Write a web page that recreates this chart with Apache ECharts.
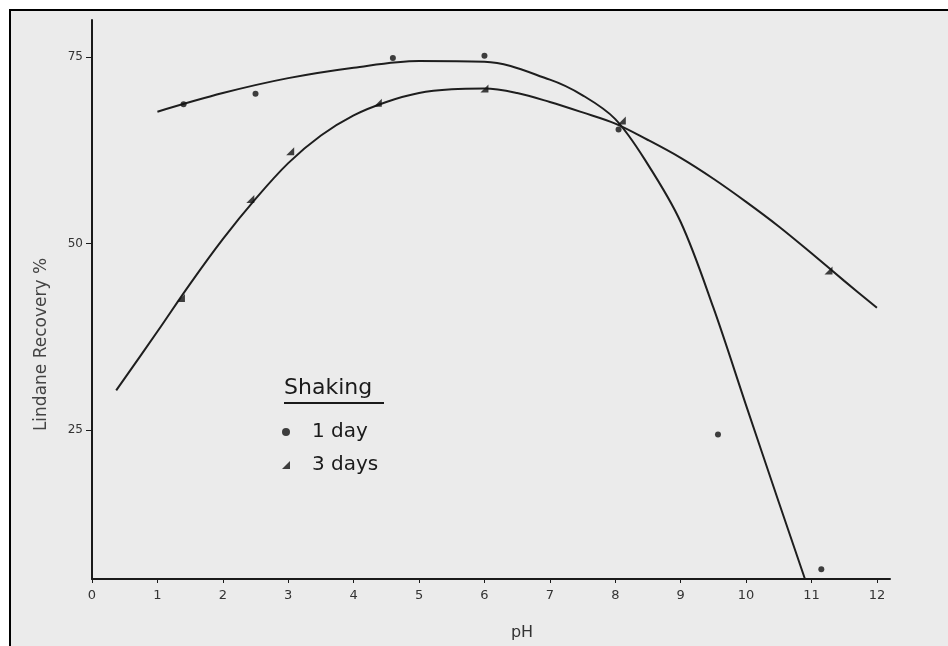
<!DOCTYPE html>
<html>
<head>
<meta charset="utf-8">
<script src="https://cdn.jsdelivr.net/npm/echarts@6/dist/echarts.min.js"></script>
<style>html,body{margin:0;padding:0;background:#fff;}#c{width:948px;height:646px;}</style>
</head>
<body>
<div id="c"></div>
<script>
// Measured points (pH, Lindane recovery %)
const pH1 = [1.4, 2.5, 4.6, 6.0, 8.05, 9.57, 11.15];
const rec1 = [68.7, 70.1, 74.9, 75.2, 65.3, 24.4, 6.3];
const pH3 = [1.36, 2.42, 3.03, 4.37, 6.0, 8.1, 11.26];
const rec3 = [42.7, 56.0, 62.4, 68.9, 70.8, 66.5, 46.4];
// Hand-drawn curves
const curve1pH = [1.0, 2.0, 3.0, 4.0, 5.0, 6.0, 7.0, 7.5, 8.0, 8.5, 9.0, 9.5, 10.0, 10.5, 10.9];
const curve1Rec = [67.7, 70.2, 72.2, 73.6, 74.5, 74.4, 72.0, 69.9, 66.7, 60.6, 52.9, 41.4, 28.3, 15.3, 5.0];
const curve3pH = [0.37, 1.0, 1.5, 2.0, 2.5, 3.0, 3.5, 4.0, 4.5, 5.0, 5.5, 6.0, 6.5, 7.0, 7.5, 8.0, 8.5, 9.0, 9.5, 10.0, 10.5, 11.0, 11.5, 12.0];
const curve3Rec = [30.3, 38.2, 44.6, 50.6, 56.0, 60.8, 64.5, 67.2, 69.0, 70.2, 70.7, 70.8, 70.2, 69.0, 67.6, 66.1, 63.9, 61.5, 58.7, 55.6, 52.3, 48.7, 45.0, 41.4];
const xTicks = [0, 1, 2, 3, 4, 5, 6, 7, 8, 9, 10, 11, 12];
const yTicks = [25, 50, 75];

const zip = (a, b) => a.map((v, i) => [v, b[i]]);
const FONT = 'DejaVu Sans';
const INK = '#1a1a1a';
const triPath = 'path://M0,10 L10,10 L10,0 Z';

const chart = echarts.init(document.getElementById('c'), null, {renderer: 'canvas'});
chart.setOption({
  backgroundColor: '#ffffff',
  animation: false,
  graphic: [
    {type: 'rect', z: -10, silent: true, shape: {x: 10, y: 10, width: 950, height: 660},
     style: {fill: '#ebebeb', stroke: '#000', lineWidth: 2}},
    {type: 'text', z: 10, left: 284, top: 377,
     style: {text: 'Shaking', font: '22px "DejaVu Sans"', fill: INK}},
    {type: 'line', z: 10, shape: {x1: 284, y1: 403, x2: 384, y2: 403},
     style: {stroke: INK, lineWidth: 2}}
  ],
  grid: {left: 92, right: 58, top: 20, bottom: 63},
  legend: {
    orient: 'vertical', left: 277, top: 417, itemGap: 13,
    itemWidth: 8, itemHeight: 8,
    data: [{name: '1 day', icon: 'circle'}, {name: '3 days', icon: triPath}],
    textStyle: {fontFamily: FONT, fontSize: 20, lineHeight: 20, color: INK, padding: [0, 0, 0, 17]}
  },
  xAxis: {
    type: 'value', min: 0, max: 12.2,
    name: 'pH', nameLocation: 'middle', nameGap: 46,
    nameTextStyle: {fontFamily: FONT, fontSize: 16, color: '#333', padding: [0, 0, 0, 62]},
    axisLine: {lineStyle: {color: INK, width: 2}},
    axisTick: {show: true, length: 4, lineStyle: {color: INK}, customValues: xTicks},
    axisLabel: {fontFamily: FONT, fontSize: 13, color: '#333', margin: 10, customValues: xTicks},
    splitLine: {show: false}
  },
  yAxis: {
    type: 'value', min: 5, max: 80,
    name: 'Lindane Recovery %', nameLocation: 'middle', nameGap: 42, nameRotate: 90,
    nameTextStyle: {fontFamily: FONT, fontSize: 17, color: '#444', padding: [0, 90, 0, 0]},
    axisLine: {lineStyle: {color: INK, width: 2}},
    axisTick: {show: true, length: 6, lineStyle: {color: INK}, customValues: yTicks},
    axisLabel: {fontFamily: FONT, fontSize: 12, color: '#333', margin: 9, customValues: yTicks},
    splitLine: {show: false}
  },
  series: [
    {name: '1 day curve', type: 'line', smooth: 0.35, showSymbol: false, z: 3,
     data: zip(curve1pH, curve1Rec), lineStyle: {color: '#1e1e1e', width: 2}},
    {name: '3 days curve', type: 'line', smooth: 0.35, showSymbol: false, z: 3,
     data: zip(curve3pH, curve3Rec), lineStyle: {color: '#1e1e1e', width: 2}},
    {name: '1 day', type: 'scatter', symbol: 'circle', symbolSize: 6, z: 4,
     data: zip(pH1, rec1), itemStyle: {color: '#111'}},
    {name: '3 days', type: 'scatter', symbol: triPath, symbolSize: 8, z: 4,
     data: zip(pH3, rec3), itemStyle: {color: '#111'}}
  ]
});
</script>
</body>
</html>
